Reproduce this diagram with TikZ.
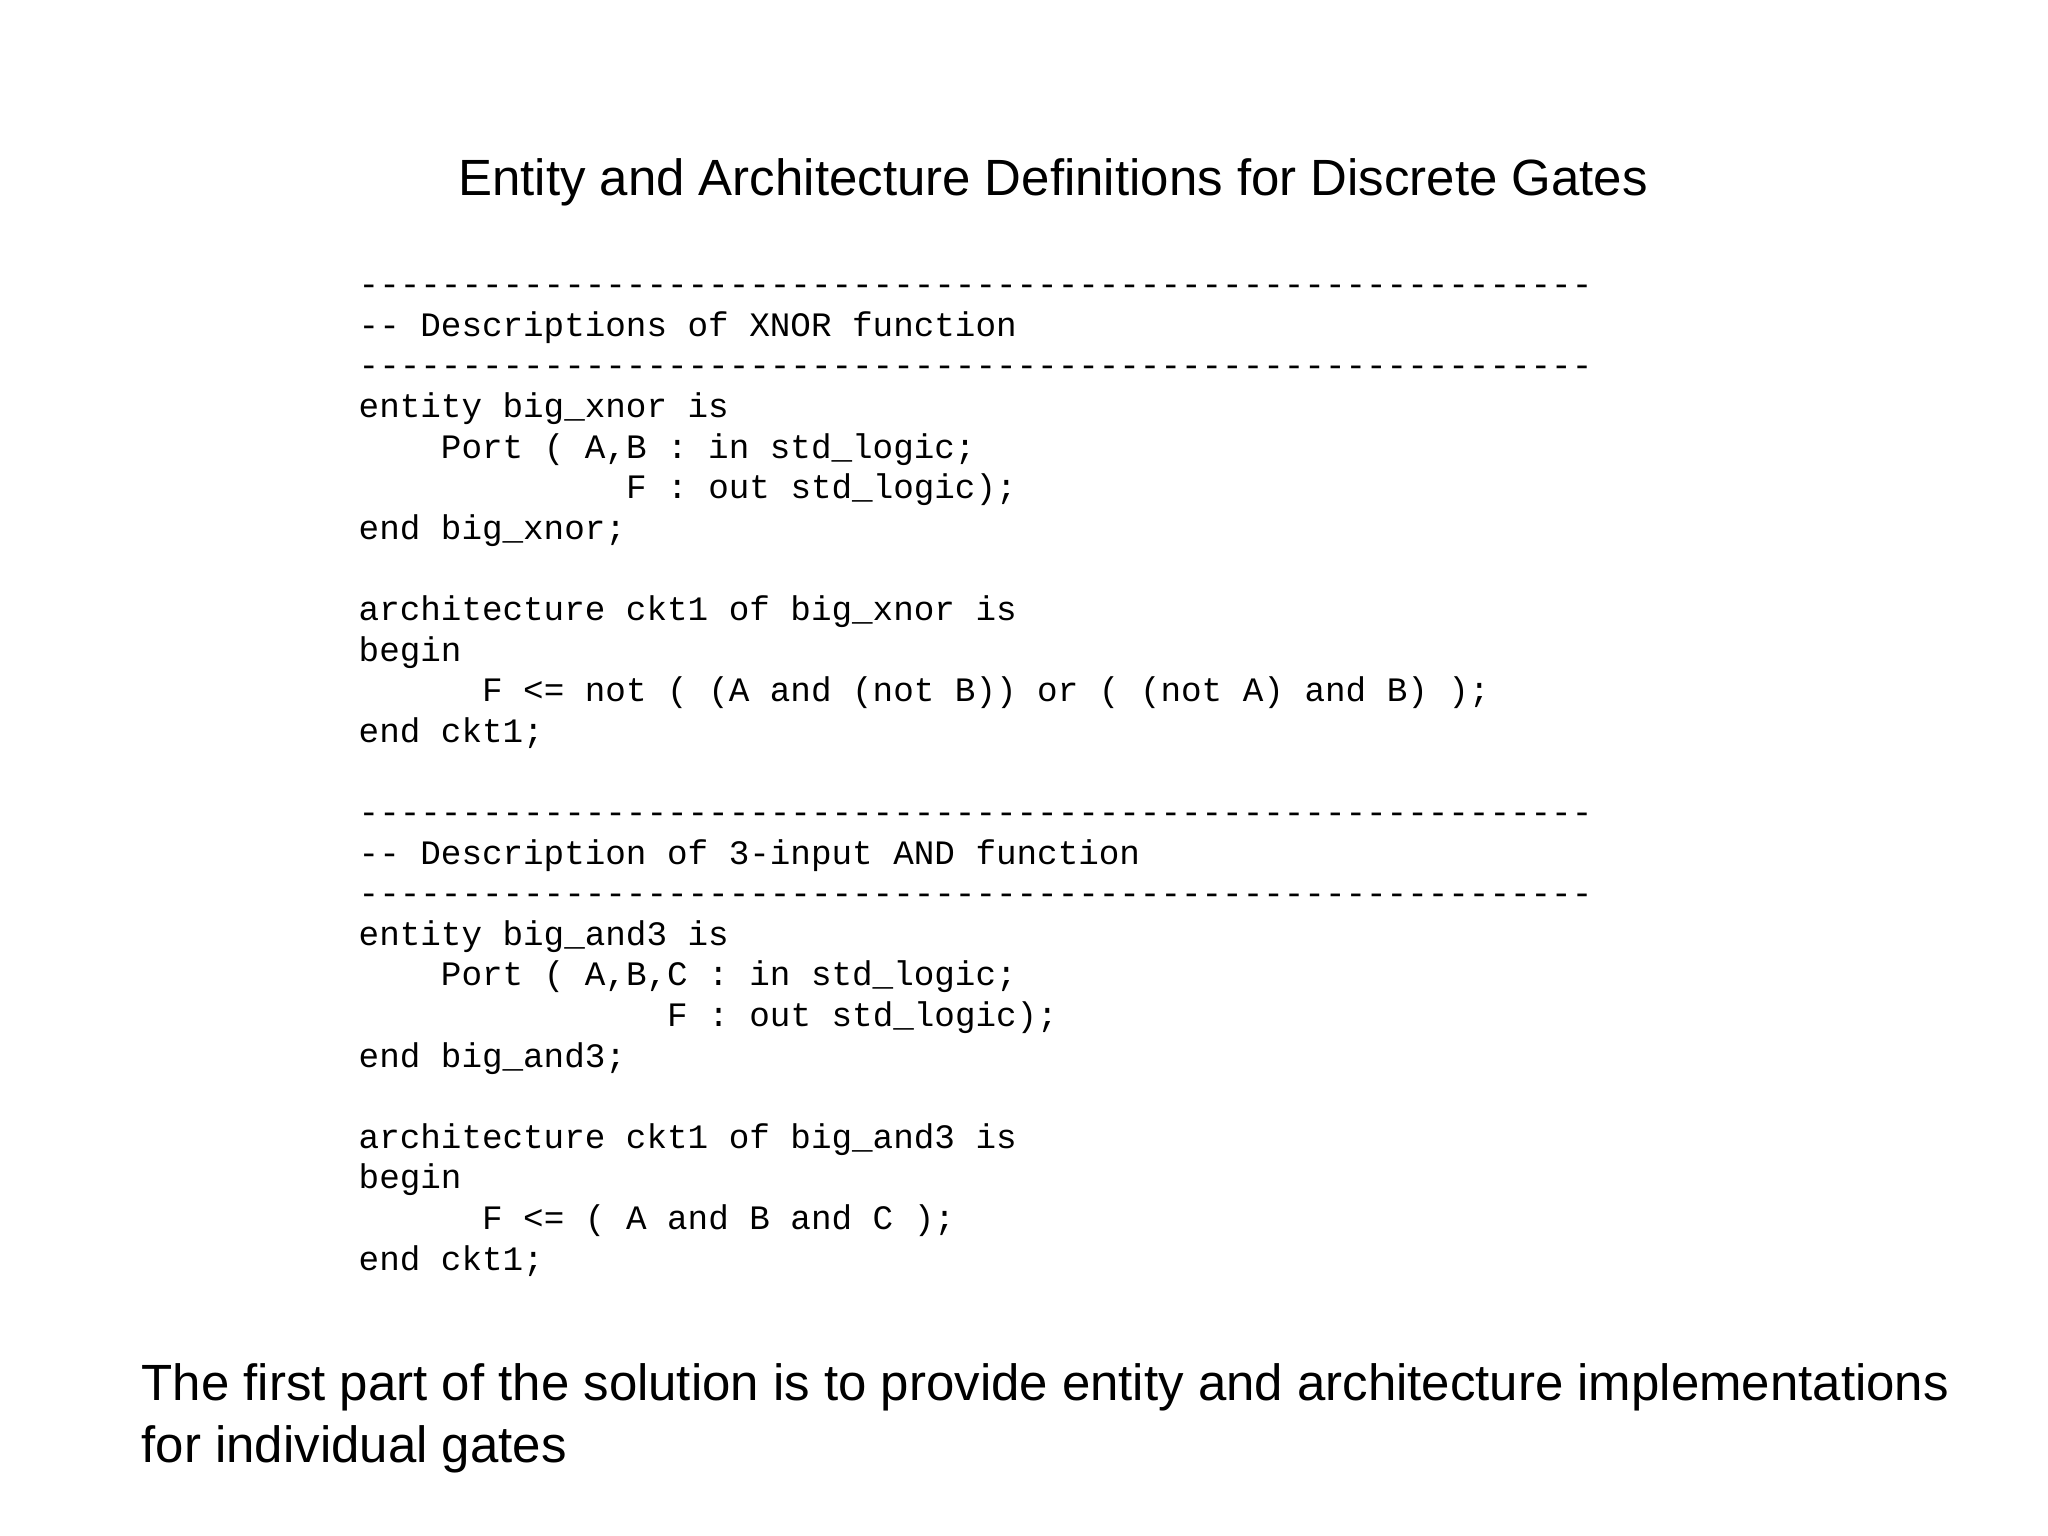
\documentclass[tikz,border=0pt]{standalone}
\usepackage{fontspec}
\setmainfont{Liberation Sans}
\newfontfamily\codefont{Liberation Mono}
\tikzset{
  heading/.style={font=\fontsize{14.5}{17}\selectfont},
  codeblock/.style={anchor=base west, inner sep=0pt, align=left,
    font=\codefont\fontsize{9.75}{11.55}\selectfont},
  remark/.style={anchor=base west, inner sep=0pt, align=left,
    font=\fontsize{14.5}{17.6}\selectfont}
}
\newcommand{\dashline}{------------------------------------------------------------}
\begin{document}
\begin{tikzpicture}
\useasboundingbox (0,0) rectangle (20.48,-15.36);
% title
\node (title) [heading] at (10.53,-1.82) {Entity and Architecture Definitions for Discrete Gates};
% vhdl listing (anchored at its last line)
\node (listing) [codeblock] at (3.58,-12.70) {\dashline\\
-- Descriptions of XNOR function\\
\dashline\\
entity big\_xnor is\\
~~~~Port ( A,B : in std\_logic;\\
~~~~~~~~~~~~~F : out std\_logic);\\
end big\_xnor;\\
~\\
architecture ckt1 of big\_xnor is\\
begin\\
~~~~~~F <= not ( (A and (not B)) or ( (not A) and B) );\\
end ckt1;\\
~\\
\dashline\\
-- Description of 3-input AND function\\
\dashline\\
entity big\_and3 is\\
~~~~Port ( A,B,C : in std\_logic;\\
~~~~~~~~~~~~~~~F : out std\_logic);\\
end big\_and3;\\
~\\
architecture ckt1 of big\_and3 is\\
begin\\
~~~~~~F <= ( A and B and C );\\
end ckt1;};
% note below
\node (note) [remark] at (1.41,-14.62) {The first part of the solution is to provide entity and architecture implementations\\
for individual gates};
\end{tikzpicture}
\end{document}
